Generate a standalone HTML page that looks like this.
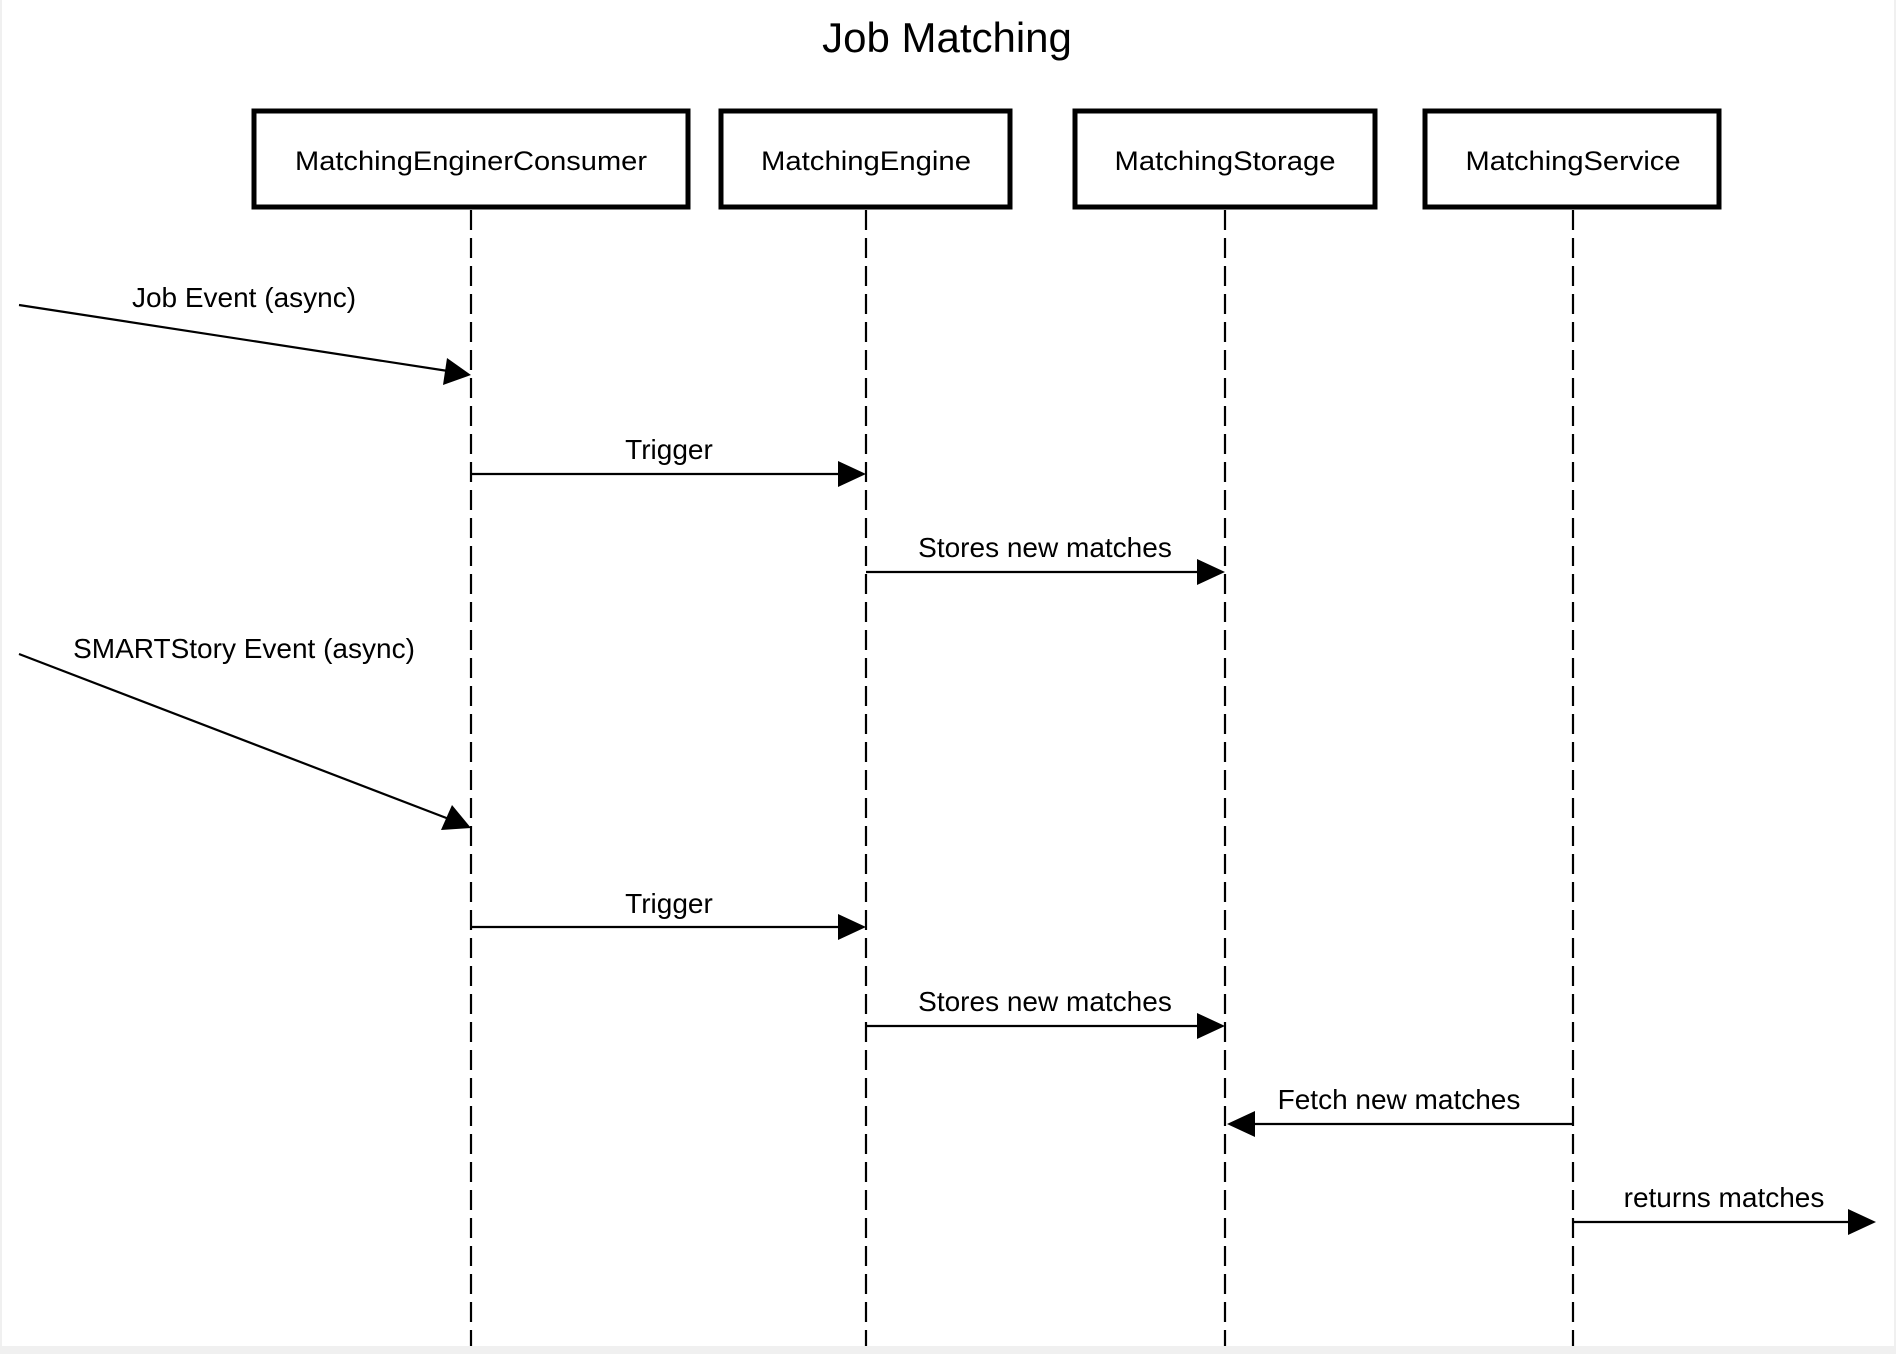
<!DOCTYPE html>
<html><head><meta charset="utf-8"><style>
html,body{margin:0;padding:0;background:#f0f0f0;}
svg{display:block;}
text{font-family:"Liberation Sans",sans-serif;fill:#000;}
</style></head><body>
<svg width="1896" height="1354" viewBox="0 0 1896 1354" xmlns="http://www.w3.org/2000/svg">
<rect x="2" y="0" width="1892" height="1346" fill="#fff"/>
<text x="947" y="52" font-size="42" text-anchor="middle">Job Matching</text>
<g fill="#fff" stroke="#000" stroke-width="5">
<rect x="254" y="111" width="434" height="96"/>
<rect x="721" y="111" width="289" height="96"/>
<rect x="1075" y="111" width="300" height="96"/>
<rect x="1425" y="111" width="294" height="96"/>
</g>
<g font-size="27" text-anchor="middle">
<text x="471" y="170" textLength="352" lengthAdjust="spacingAndGlyphs">MatchingEnginerConsumer</text>
<text x="866" y="170" textLength="210" lengthAdjust="spacingAndGlyphs">MatchingEngine</text>
<text x="1225" y="170" textLength="221" lengthAdjust="spacingAndGlyphs">MatchingStorage</text>
<text x="1573" y="170" textLength="215" lengthAdjust="spacingAndGlyphs">MatchingService</text>
</g>
<g stroke="#000" stroke-width="2.2" stroke-dasharray="20 8">
<line x1="471" y1="210" x2="471" y2="1346"/>
<line x1="866" y1="210" x2="866" y2="1346"/>
<line x1="1225" y1="210" x2="1225" y2="1346"/>
<line x1="1573" y1="210" x2="1573" y2="1346"/>
</g>
<g stroke="#000" stroke-width="2.2" fill="none">
<line x1="19" y1="305" x2="448" y2="371"/>
<line x1="471" y1="474" x2="840" y2="474"/>
<line x1="866" y1="572" x2="1199" y2="572"/>
<line x1="19" y1="654" x2="449" y2="819"/>
<line x1="471" y1="927" x2="840" y2="927"/>
<line x1="866" y1="1026" x2="1199" y2="1026"/>
<line x1="1573" y1="1124" x2="1251" y2="1124"/>
<line x1="1573" y1="1222" x2="1852" y2="1222"/>
</g>
<g fill="#000">
<polygon points="471,375 443,385 447,358"/>
<polygon points="866,474 838,461 838,487"/>
<polygon points="1225,572 1197,559 1197,585"/>
<polygon points="866,927 838,914 838,940"/>
<polygon points="1225,1026 1197,1013 1197,1039"/>
<polygon points="1227,1124 1255,1111 1255,1137"/>
<polygon points="1876,1222 1848,1209 1848,1235"/>
<polygon points="471,828 441,830 452,805"/>
</g>
<g font-size="28" text-anchor="middle">
<text x="244" y="307">Job Event (async)</text>
<text x="669" y="459">Trigger</text>
<text x="1045" y="557">Stores new matches</text>
<text x="244" y="658">SMARTStory Event (async)</text>
<text x="669" y="913">Trigger</text>
<text x="1045" y="1011">Stores new matches</text>
<text x="1399" y="1109">Fetch new matches</text>
<text x="1724" y="1207">returns matches</text>
</g>
</svg>
</body></html>
